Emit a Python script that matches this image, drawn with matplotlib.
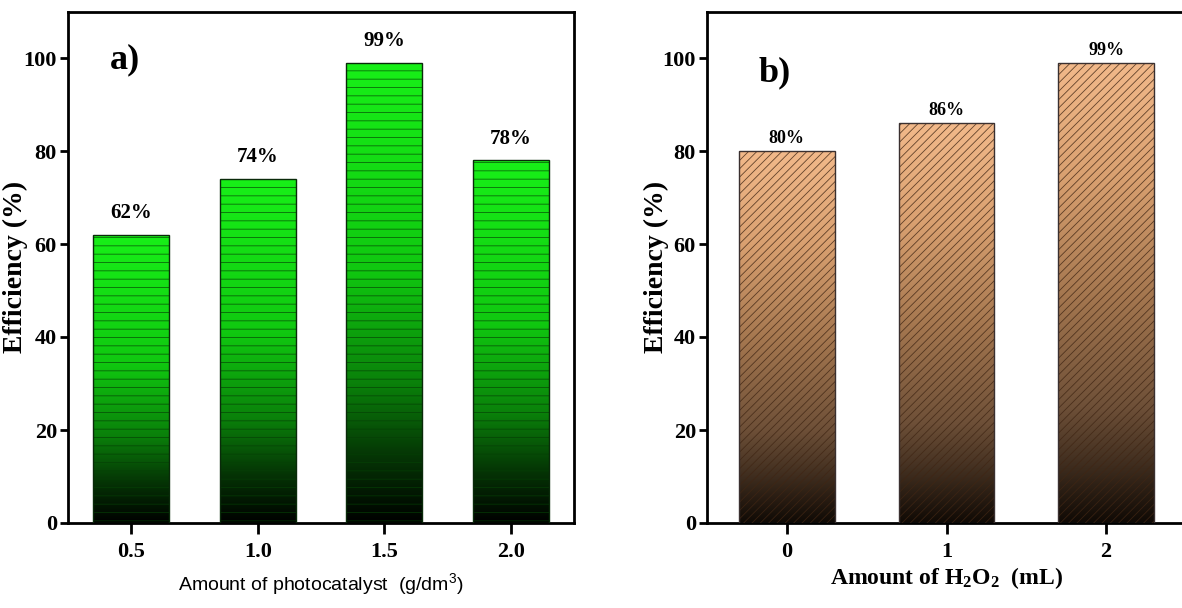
import numpy as np
import matplotlib
matplotlib.use("Agg")
import matplotlib.pyplot as plt
from matplotlib.colors import LinearSegmentedColormap

# Effect of photocatalyst dose
catalyst_amounts = [0.5, 1.0, 1.5, 2.0]
catalyst_efficiency = [62, 74, 99, 78]
catalyst_labels = ["62%", "74%", "99%", "78%"]
catalyst_ticks = ["0.5", "1.0", "1.5", "2.0"]

# Effect of H2O2 volume
h2o2_amounts = [0, 1, 2]
h2o2_efficiency = [80, 86, 99]
h2o2_labels = ["80%", "86%", "99%"]
h2o2_ticks = ["0", "1", "2"]

y_ticks = [0, 20, 40, 60, 80, 100]

SERIF = ["Liberation Serif", "DejaVu Serif"]
NARROW = ["Liberation Sans Narrow", "Liberation Sans", "DejaVu Sans"]

plt.rcParams["hatch.linewidth"] = 0.6
plt.rcParams["mathtext.default"] = "regular"

W, H = 1182, 608
fig = plt.figure(figsize=(W / 100, H / 100), dpi=100)
ax_a = fig.add_axes([68 / W, 85 / H, 506 / W, 511.5 / H])
ax_b = fig.add_axes([707 / W, 85 / H, 479 / W, 511.5 / H])

green_fade = LinearSegmentedColormap.from_list(
    "green_fade",
    [(0.0, "#000000"), (0.15, "#053805"), (0.3, "#0a800a"),
     (0.55, "#10c810"), (1.0, "#18f018")])
tan_fade = LinearSegmentedColormap.from_list(
    "tan_fade",
    [(0.0, "#100a05"), (0.25, "#6e5038"), (0.5, "#a67850"),
     (0.75, "#d9a070"), (1.0, "#f2b98a")])


def gradient_bars(ax, x, heights, width, cmap, hatch, hatch_color, edge_color):
    """Bars filled with a vertical colour fade (dark at the base) plus a hatch."""
    outline = ax.bar(x, heights, width=width, facecolor="none",
                     edgecolor=edge_color, linewidth=1.0, zorder=4)
    ramp = np.linspace(0, 1, 256).reshape(-1, 1)
    for bar in outline:
        x0, w, h = bar.get_x(), bar.get_width(), bar.get_height()
        im = ax.imshow(ramp, extent=[x0, x0 + w, 0, h], origin="lower",
                       aspect="auto", cmap=cmap, zorder=2,
                       interpolation="bilinear")
        im.set_clip_path(bar)
    ax.bar(x, heights, width=width, facecolor="none", edgecolor=hatch_color,
           linewidth=0, hatch=hatch, zorder=3)
    return outline


def style_axes(ax, ylabel_x):
    for side in ax.spines.values():
        side.set_linewidth(2)
    ax.tick_params(axis="both", direction="out", width=2, colors="black")
    ax.tick_params(axis="y", length=6, pad=2)
    ax.tick_params(axis="x", length=8, pad=6)
    ax.set_ylim(0, 110)
    ax.set_yticks(y_ticks)
    ax.set_yticklabels([str(v) for v in y_ticks], fontfamily=SERIF,
                       fontweight="bold", fontsize=16)
    ax.set_ylabel("Efficiency (%)", fontfamily=SERIF, fontweight="bold",
                  fontsize=20)
    ax.yaxis.set_label_coords(ylabel_x, 0.5)


# ---- panel a ----
gradient_bars(ax_a, catalyst_amounts, catalyst_efficiency, 0.3, green_fade,
              "--", (0.02, 0.25, 0.02, 0.75), "#0a2a0a")
ax_a.set_xlim(0.25, 2.25)
ax_a.set_xticks(catalyst_amounts)
ax_a.set_xticklabels(catalyst_ticks, fontfamily=SERIF, fontweight="bold",
                     fontsize=16)
style_axes(ax_a, -0.08)
ax_a.set_xlabel("Amount of photocatalyst  (g/dm$^3$)", fontfamily=NARROW,
                fontsize=14, labelpad=6)
for xv, yv, txt in zip(catalyst_amounts, catalyst_efficiency, catalyst_labels):
    ax_a.text(xv, yv + 2.5, txt, ha="center", va="bottom", fontfamily=SERIF,
              fontweight="bold", fontsize=15)
ax_a.text(0.113, 0.905, "a)", transform=ax_a.transAxes, ha="center",
          va="center", fontfamily=SERIF, fontweight="bold", fontsize=26)

# ---- panel b ----
gradient_bars(ax_b, h2o2_amounts, h2o2_efficiency, 0.6, tan_fade,
              "////", (0.25, 0.15, 0.08, 0.8), "#3a3030")
ax_b.set_xlim(-0.5, 2.5)
ax_b.set_xticks(h2o2_amounts)
ax_b.set_xticklabels(h2o2_ticks, fontfamily=SERIF, fontweight="bold",
                     fontsize=16)
style_axes(ax_b, -0.08)
ax_b.set_xlabel("Amount of H$_2$O$_2$  (mL)", fontfamily=SERIF,
                fontweight="bold", fontsize=17, labelpad=2)
for xv, yv, txt in zip(h2o2_amounts, h2o2_efficiency, h2o2_labels):
    ax_b.text(xv, yv + 0.8, txt, ha="center", va="bottom", fontfamily=SERIF,
              fontweight="bold", fontsize=13)
ax_b.text(0.142, 0.88, "b)", transform=ax_b.transAxes, ha="center",
          va="center", fontfamily=SERIF, fontweight="bold", fontsize=26)

fig.savefig("out.png", dpi=100, facecolor="white")
